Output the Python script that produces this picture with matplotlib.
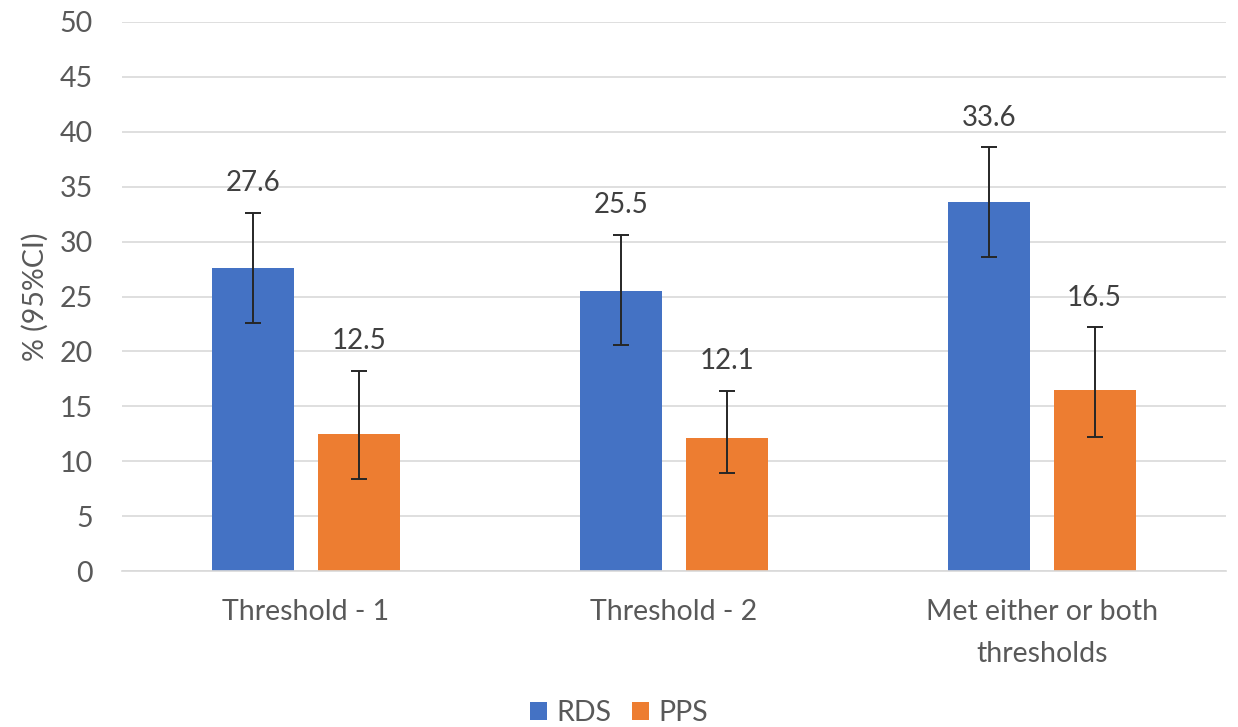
import matplotlib.pyplot as plt
import numpy as np

categories = ["Threshold - 1", "Threshold - 2", "Met either or both\nthresholds"]
rds = [27.6, 25.5, 33.6]
rds_low = [22.6, 20.6, 28.6]
rds_high = [32.6, 30.6, 38.6]
pps = [12.5, 12.1, 16.5]
pps_low = [8.4, 8.9, 12.2]
pps_high = [18.2, 16.4, 22.2]

plt.rcParams['font.family'] = ['Lato', 'DejaVu Sans']

fig = plt.figure(figsize=(12.38, 7.27), dpi=100)
ax = fig.add_axes([122/1238, 1-571/727, 1104/1238, 549/727])

x = np.arange(len(categories))
w = 0.223
off = 0.143

def bars(pos, vals, lo, hi, color, name):
	err = [np.array(vals)-np.array(lo), np.array(hi)-np.array(vals)]
	ax.bar(pos, vals, w, color=color, label=name, zorder=2)
	ax.errorbar(pos, vals, yerr=err, fmt="none", ecolor="#262626",
		elinewidth=1.4, capsize=5.5, capthick=1.4, zorder=3)
	for p, h, v in zip(pos, hi, vals):
		ax.annotate(f"{v:.1f}", (p, h), xytext=(0, 12), textcoords="offset points",
			ha="center", va="bottom", fontsize=20, color="#404040")

bars(x-off, rds, rds_low, rds_high, "#4472c4", "RDS")
bars(x+off, pps, pps_low, pps_high, "#ed7d31", "PPS")

ax.set_xlim(-0.5, 2.5)
ax.set_ylim(0, 50)
ax.set_yticks(range(0, 51, 5))
ax.set_xticks(x)
ax.set_xticklabels(categories, fontsize=20.5, color="#595959", linespacing=1.75)
ax.tick_params(axis="y", labelsize=20.5, labelcolor="#595959", length=0, pad=21)
ax.tick_params(axis="x", length=0, pad=20)
ax.grid(axis="y", color="#d9d9d9", linewidth=1.2, zorder=0)
for s in ["top", "right", "left"]:
	ax.spines[s].set_visible(False)
ax.spines["bottom"].set_color("#d9d9d9")
ax.spines["bottom"].set_linewidth(1.2)
ax.set_ylabel("% (95%CI)", fontsize=20.5, color="#595959", labelpad=8)

handles, labels = ax.get_legend_handles_labels()
leg = fig.legend(handles, labels, loc="center", bbox_to_anchor=(0.5, 1-713/727), ncol=2, frameon=False,
	fontsize=20.5, handlelength=0.6, handleheight=0.6, columnspacing=0.7, handletextpad=0.35)
for t in leg.get_texts():
	t.set_color("#595959")

plt.savefig("out.png", dpi=100)
